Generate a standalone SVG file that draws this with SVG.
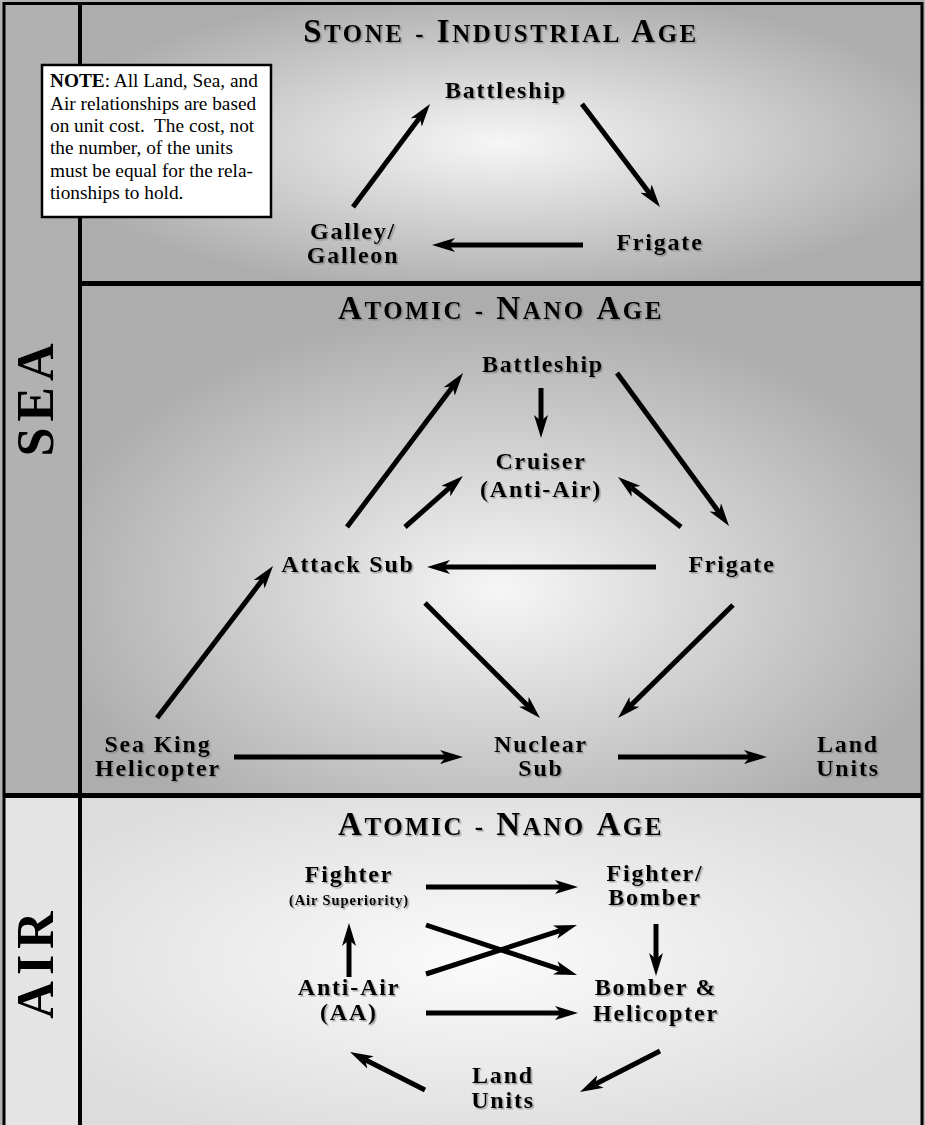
<svg xmlns="http://www.w3.org/2000/svg" width="925" height="1125" viewBox="0 0 925 1125">
<defs>
<radialGradient id="gStone" cx="0.5" cy="0.5" r="0.55">
<stop offset="0" stop-color="#f6f6f6"/>
<stop offset="1" stop-color="#adadad"/>
</radialGradient>
<radialGradient id="gSea" cx="0.5" cy="0.6" r="0.55">
<stop offset="0" stop-color="#f6f6f6"/>
<stop offset="1" stop-color="#adadad"/>
</radialGradient>
<radialGradient id="gAir" cx="0.47" cy="0.5" r="0.6">
<stop offset="0" stop-color="#fbfbfb"/>
<stop offset="1" stop-color="#dcdcdc"/>
</radialGradient>
<filter id="sh" x="-10%" y="-30%" width="130%" height="170%">
<feDropShadow dx="1.5" dy="1.5" stdDeviation="0.6" flood-color="#666" flood-opacity="0.55"/>
</filter>
<marker id="ah" markerUnits="userSpaceOnUse" markerWidth="23" markerHeight="14" viewBox="0 0 23 14" refX="6" refY="7" orient="auto">
<path d="M0,0 L23,7 L0,14 L6,7 Z" fill="#000"/>
</marker>
<style>
.lbl{font-family:"Liberation Serif","Times New Roman",serif;font-weight:bold;font-size:24px;letter-spacing:1.8px;fill:#000;text-anchor:middle;filter:url(#sh)}
.small{font-size:14.5px;letter-spacing:0.9px}
.title{font-family:"Liberation Serif","Times New Roman",serif;font-weight:bold;font-size:25px;letter-spacing:2.5px;word-spacing:2px;fill:#000;text-anchor:middle;filter:url(#sh)}
.big{font-size:33px}
.side{font-family:"Liberation Serif","Times New Roman",serif;font-weight:bold;font-size:52px;letter-spacing:6px;fill:#000;text-anchor:middle}
.note{font-family:"Liberation Serif","Times New Roman",serif;font-size:19.3px;fill:#000}
.arr{stroke:#000;stroke-width:5;fill:none;marker-end:url(#ah)}
.div{stroke:#000;fill:none}
</style>
</defs>

<g id="background">
<rect x="0" y="0" width="925" height="1125" fill="#b1b1b1"/>
<rect x="4" y="795" width="76" height="330" fill="#e4e4e4"/>
<rect x="80" y="3" width="842" height="280" fill="url(#gStone)"/>
<rect x="80" y="283" width="842" height="512" fill="url(#gSea)"/>
<rect x="80" y="795" width="842" height="330" fill="url(#gAir)"/>
<rect x="922" y="0" width="3" height="1125" fill="#b1b1b1"/>
</g>

<g id="frame">
<path class="div" stroke-width="3" d="M4,1130 V3.5 H922 V1130"/>
<line class="div" stroke-width="4" x1="80" y1="3" x2="80" y2="1125"/>
<line class="div" stroke-width="5" x1="80" y1="283.5" x2="922" y2="283.5"/>
<line class="div" stroke-width="5" x1="4" y1="795.5" x2="922" y2="795.5"/>
</g>

<g id="side-labels">
<text class="side" transform="translate(53,397) rotate(-90)">SEA</text>
<text class="side" transform="translate(53,962) rotate(-90)">AIR</text>
</g>

<g id="titles">
<text class="title" x="501" y="42"><tspan class="big">S</tspan>TONE - <tspan class="big">I</tspan>NDUSTRIAL <tspan class="big">A</tspan>GE</text>
<text class="title" x="501" y="319"><tspan class="big">A</tspan>TOMIC - <tspan class="big">N</tspan>ANO <tspan class="big">A</tspan>GE</text>
<text class="title" x="501" y="835"><tspan class="big">A</tspan>TOMIC - <tspan class="big">N</tspan>ANO <tspan class="big">A</tspan>GE</text>
</g>

<g id="connectors">
<line class="arr" x1="353" y1="207" x2="419.8" y2="117.6"/>
<line class="arr" x1="582" y1="104" x2="649.7" y2="193.4"/>
<line class="arr" x1="583" y1="245" x2="449" y2="245"/>

<line class="arr" x1="541" y1="388" x2="541" y2="421"/>
<line class="arr" x1="347" y1="527" x2="452.8" y2="386.6"/>
<line class="arr" x1="405" y1="527" x2="450.2" y2="487.2"/>
<line class="arr" x1="617" y1="373" x2="719" y2="512.3"/>
<line class="arr" x1="681" y1="527" x2="631.3" y2="487.6"/>
<line class="arr" x1="656" y1="567" x2="444" y2="567"/>
<line class="arr" x1="425" y1="603" x2="528" y2="706"/>
<line class="arr" x1="733" y1="605" x2="630.1" y2="706.1"/>
<line class="arr" x1="157" y1="718" x2="262.7" y2="579.5"/>
<line class="arr" x1="234" y1="757" x2="446" y2="757"/>
<line class="arr" x1="618" y1="757" x2="750" y2="757"/>

<line class="arr" x1="426" y1="887" x2="561" y2="887"/>
<line class="arr" x1="426" y1="925" x2="560.9" y2="969.7"/>
<line class="arr" x1="426" y1="974" x2="560.8" y2="930.3"/>
<line class="arr" x1="349" y1="977" x2="349" y2="940"/>
<line class="arr" x1="656" y1="924" x2="656" y2="959"/>
<line class="arr" x1="426" y1="1013" x2="561" y2="1013"/>
<line class="arr" x1="660" y1="1051" x2="595.1" y2="1084.2"/>
<line class="arr" x1="425" y1="1090" x2="365.2" y2="1059.7"/>
</g>

<g id="note">
<rect x="42" y="65" width="229" height="152" fill="#fff" stroke="#000" stroke-width="2.5"/>
<text class="note" xml:space="preserve"><tspan x="50" y="87"><tspan font-weight="bold">NOTE</tspan>: All Land, Sea, and</tspan><tspan x="50" y="110">Air relationships are based</tspan><tspan x="50" y="132">on unit cost.  The cost, not</tspan><tspan x="50" y="154">the number, of the units</tspan><tspan x="50" y="177">must be equal for the rela-</tspan><tspan x="50" y="199">tionships to hold.</tspan></text>
</g>

<g id="stone-battleship"><text class="lbl" x="506" y="98">Battleship</text></g>
<g id="stone-frigate"><text class="lbl" x="660" y="250">Frigate</text></g>
<g id="stone-galley"><text class="lbl" x="353" y="239">Galley/</text><text class="lbl" x="353" y="263">Galleon</text></g>

<g id="sea-battleship"><text class="lbl" x="543" y="372">Battleship</text></g>
<g id="sea-cruiser"><text class="lbl" x="541" y="469">Cruiser</text><text class="lbl" x="541" y="497">(Anti-Air)</text></g>
<g id="sea-attack-sub"><text class="lbl" x="348" y="572">Attack Sub</text></g>
<g id="sea-frigate"><text class="lbl" x="732" y="572">Frigate</text></g>
<g id="sea-king"><text class="lbl" x="158" y="752">Sea King</text><text class="lbl" x="158" y="776">Helicopter</text></g>
<g id="sea-nuclear-sub"><text class="lbl" x="541" y="752">Nuclear</text><text class="lbl" x="541" y="776">Sub</text></g>
<g id="sea-land-units"><text class="lbl" x="848" y="752">Land</text><text class="lbl" x="848" y="776">Units</text></g>

<g id="air-fighter"><text class="lbl" x="349" y="882">Fighter</text><text class="lbl small" x="349" y="905">(Air Superiority)</text></g>
<g id="air-fighter-bomber"><text class="lbl" x="655" y="881">Fighter/</text><text class="lbl" x="655" y="905">Bomber</text></g>
<g id="air-anti-air"><text class="lbl" x="349" y="995">Anti-Air</text><text class="lbl" x="349" y="1020">(AA)</text></g>
<g id="air-bomber-heli"><text class="lbl" x="656" y="995">Bomber &amp;</text><text class="lbl" x="656" y="1021">Helicopter</text></g>
<g id="air-land-units"><text class="lbl" x="503" y="1083">Land</text><text class="lbl" x="503" y="1108">Units</text></g>
</svg>
